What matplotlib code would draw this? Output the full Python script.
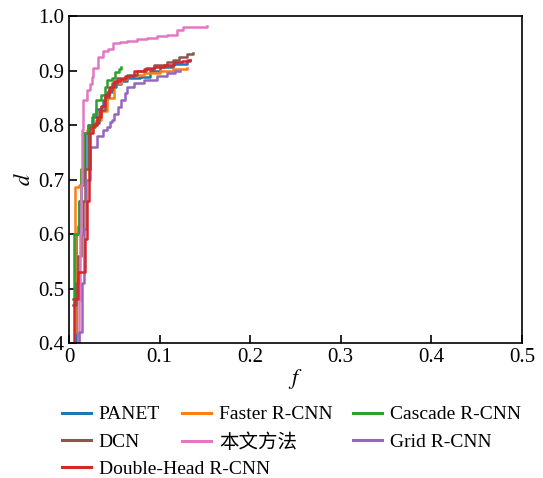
import matplotlib.pyplot as plt

plt.rcParams['font.family'] = ['Liberation Serif', 'Noto Sans CJK SC']
plt.rcParams['mathtext.fontset'] = 'stix'

# Series (false positive rate f vs detection rate d)
panet_f = [0.005, 0.008, 0.011, 0.013, 0.015, 0.018, 0.021, 0.025, 0.030, 0.035, 0.038, 0.042, 0.047,
           0.052, 0.058, 0.064, 0.070, 0.078, 0.089, 0.100, 0.115, 0.130, 0.134]
panet_d = [0.40, 0.60, 0.66, 0.69, 0.72, 0.785, 0.80, 0.815, 0.83, 0.833, 0.846, 0.86, 0.87,
           0.875, 0.88, 0.886, 0.886, 0.889, 0.90, 0.907, 0.912, 0.919, 0.919]

faster_f = [0.0066, 0.007, 0.011, 0.013, 0.016, 0.020, 0.025, 0.030, 0.035, 0.042, 0.050, 0.057,
            0.064, 0.072, 0.083, 0.100, 0.115, 0.130]
faster_d = [0.42, 0.686, 0.69, 0.72, 0.785, 0.79, 0.80, 0.81, 0.825, 0.85, 0.877, 0.885,
            0.89, 0.892, 0.895, 0.90, 0.903, 0.904]

cascade_f = [0.0045, 0.006, 0.010, 0.011, 0.013, 0.015, 0.021, 0.026, 0.030, 0.035, 0.040, 0.042,
             0.047, 0.051, 0.055, 0.058]
cascade_d = [0.48, 0.60, 0.615, 0.66, 0.72, 0.785, 0.80, 0.82, 0.846, 0.855, 0.870, 0.883,
             0.886, 0.898, 0.903, 0.907]

dcn_f = [0.004, 0.008, 0.0105, 0.013, 0.016, 0.018, 0.021, 0.023, 0.029, 0.033, 0.040, 0.044, 0.047,
         0.053, 0.064, 0.075, 0.085, 0.094, 0.108, 0.115, 0.122, 0.130, 0.137]
dcn_d = [0.47, 0.51, 0.56, 0.60, 0.66, 0.72, 0.785, 0.797, 0.803, 0.828, 0.852, 0.864, 0.877,
         0.886, 0.892, 0.90, 0.905, 0.91, 0.916, 0.92, 0.925, 0.93, 0.932]

ours_f = [0.0094, 0.011, 0.0125, 0.0131, 0.0143, 0.016, 0.020, 0.023, 0.025, 0.027, 0.032, 0.038,
          0.043, 0.049, 0.056, 0.064, 0.075, 0.086, 0.097, 0.108, 0.119, 0.126, 0.152]
ours_d = [0.40, 0.479, 0.60, 0.69, 0.79, 0.846, 0.864, 0.875, 0.889, 0.905, 0.925, 0.935,
          0.94, 0.95, 0.952, 0.955, 0.957, 0.96, 0.963, 0.965, 0.974, 0.979, 0.981]

grid_f = [0.010, 0.011, 0.014, 0.017, 0.019, 0.023, 0.031, 0.038, 0.042, 0.045, 0.047, 0.050, 0.054,
          0.058, 0.062, 0.064, 0.072, 0.083, 0.097, 0.108, 0.117, 0.123]
grid_d = [0.40, 0.42, 0.51, 0.61, 0.70, 0.76, 0.78, 0.79, 0.797, 0.805, 0.81, 0.82, 0.833,
          0.846, 0.858, 0.87, 0.877, 0.883, 0.89, 0.895, 0.90, 0.90]

double_f = [0.005, 0.006, 0.0105, 0.018, 0.020, 0.022, 0.023, 0.027, 0.031, 0.035, 0.040, 0.044,
            0.050, 0.056, 0.062, 0.072, 0.083, 0.094, 0.105, 0.116, 0.125, 0.134]
double_d = [0.40, 0.48, 0.53, 0.59, 0.66, 0.72, 0.785, 0.80, 0.815, 0.835, 0.855, 0.87,
            0.88, 0.885, 0.89, 0.90, 0.903, 0.907, 0.91, 0.915, 0.918, 0.92]

labels = ['PANET', 'Faster R-CNN', 'Cascade R-CNN', 'DCN', '本文方法', 'Grid R-CNN', 'Double-Head R-CNN']
colors = ['#1f77b4', '#ff7f0e', '#2ca02c', '#8c564b', '#e377c2', '#9467bd', '#d62728']
series = [(panet_f, panet_d), (faster_f, faster_d), (cascade_f, cascade_d), (dcn_f, dcn_d),
          (ours_f, ours_d), (grid_f, grid_d), (double_f, double_d)]

fig = plt.figure(figsize=(5.43, 4.78), dpi=100)
ax = fig.add_axes([0.127, 0.2824, 0.834, 0.6841])

lines = []
for (f, d), lab, c in zip(series, labels, colors):
    ln, = ax.plot(f, d, drawstyle='steps-post', color=c, lw=1.8, label=lab)
    lines.append(ln)

ax.set_xlim(0, 0.5)
ax.set_ylim(0.4, 1.0)
ax.set_xticks([0, 0.1, 0.2, 0.3, 0.4, 0.5])
ax.set_xticklabels(['0', '0.1', '0.2', '0.3', '0.4', '0.5'])
ax.set_yticks([0.4, 0.5, 0.6, 0.7, 0.8, 0.9, 1.0])
ax.tick_params(direction='in', labelsize=15, length=6, width=1.2)
for s in ax.spines.values():
    s.set_linewidth(1.2)
ax.set_xlabel('$f$', fontsize=16, labelpad=0)
ax.set_ylabel('$d$', fontsize=16, labelpad=2)

# one small legend per column, so the long label in row 3 does not widen column 1
columns = [([0, 3, 6], 0.114), ([1, 4], 0.335), ([2, 5], 0.650)]
for idx, x0 in columns:
    leg = fig.legend([lines[i] for i in idx], [labels[i] for i in idx],
                     loc='upper left', bbox_to_anchor=(x0, 0.151), frameon=False,
                     fontsize=14, handlelength=1.5, handletextpad=0.4,
                     labelspacing=0.5, borderpad=0, borderaxespad=0)
    for h in leg.legend_handles:
        h.set_linewidth(2.2)

fig.savefig('out.png', dpi=100)
